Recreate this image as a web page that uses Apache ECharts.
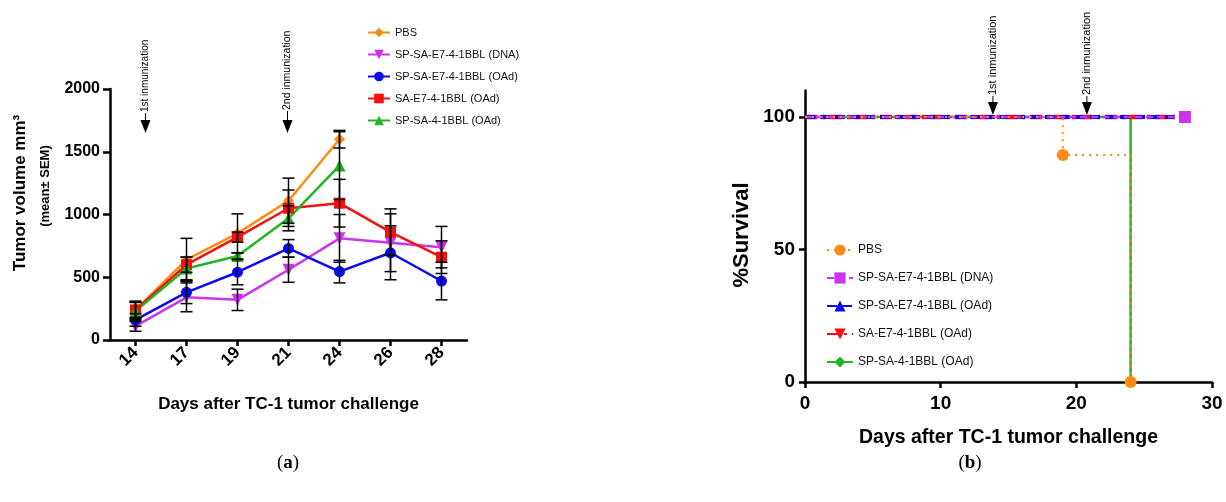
<!DOCTYPE html>
<html>
<head>
<meta charset="utf-8">
<script src="https://cdn.jsdelivr.net/npm/echarts@6/dist/echarts.min.js"></script>
<style>
html, body { margin: 0; padding: 0; background: #fff; }
#main { width: 1226px; height: 502px; }
</style>
</head>
<body>
<div id="main"></div>
<script>
// 肿瘤体积 (a)
var days = ['14', '17', '19', '21', '24', '26', '28'];
var pbsVol  = [240, 640, 850, 1110, 1600, null, null];
var dnaVol  = [110, 340, 320, 560, 810, 775, 740];
var oadVol  = [160, 380, 540, 730, 545, 695, 470];
var saVol   = [240, 600, 820, 1050, 1090, 860, 660];
var spsaVol = [230, 570, 670, 970, 1390, null, null];
// SEM
var pbsSem  = [70, 170, 155, 180, 70, null, null];
var dnaSem  = [40, 115, 85, 100, 190, 230, 165];
var oadSem  = [50, 90, 100, 70, 90, 215, 150];
var saSem   = [60, 60, 40, 145, 190, 185, 130];
var spsaSem = [70, 90, 25, 100, 270, null, null];

// 生存曲线 (b)
var pbsSurv  = [[0, 100], [19, 85.7], [24, 0]];
var dnaSurv  = [[0, 100], [28, 100]];
var oadSurv  = [[0, 100], [28, 100]];
var saSurv   = [[0, 100], [28, 100]];
var spsaSurv = [[0, 100], [24, 0]];

var names = ['PBS', 'SP-SA-E7-4-1BBL (DNA)', 'SP-SA-E7-4-1BBL (OAd)', 'SA-E7-4-1BBL (OAd)', 'SP-SA-4-1BBL (OAd)'];
var colors = ['#FF8A14', '#CC33EE', '#0A0AF0', '#F50F0F', '#22B422'];

var FONT = 'Liberation Sans, Arial, sans-serif';

function errData(vals, sems) {
    var out = [];
    for (let i = 0; i < vals.length; i++) {
        if (vals[i] != null) out.push([i, vals[i] - sems[i], vals[i] + sems[i]]);
    }
    return out;
}

function renderErr(params, api) {
    var x = api.value(0);
    var lo = api.coord([x, api.value(1)]);
    var hi = api.coord([x, api.value(2)]);
    var w = 6;
    var st = { stroke: '#000', lineWidth: 1.5 };
    return {
        type: 'group',
        children: [
            { type: 'line', shape: { x1: lo[0], y1: lo[1], x2: hi[0], y2: hi[1] }, style: st },
            { type: 'line', shape: { x1: lo[0] - w, y1: lo[1], x2: lo[0] + w, y2: lo[1] }, style: st },
            { type: 'line', shape: { x1: hi[0] - w, y1: hi[1], x2: hi[0] + w, y2: hi[1] }, style: st }
        ]
    };
}

function survData(pts, endSymbol) {
    return pts.map(function (p, i) {
        if (i == 0) return { value: p, symbol: 'none' };
        if (endSymbol === false) return { value: p, symbol: 'none' };
        return { value: p };
    });
}

var volData = [pbsVol, dnaVol, oadVol, saVol, spsaVol];
var semData = [pbsSem, dnaSem, oadSem, saSem, spsaSem];
var volSymbols = ['diamond', 'triangle', 'circle', 'rect', 'triangle'];
var volRotate = [0, 180, 0, 0, 0];
var volSizes = [11, 12, 11, 11, 12];

var series = [];
for (let i = 0; i < 5; i++) {
    series.push({
        name: names[i],
        type: 'line',
        xAxisIndex: 0,
        yAxisIndex: 0,
        data: volData[i],
        symbol: volSymbols[i],
        symbolRotate: volRotate[i],
        symbolSize: volSizes[i],
        itemStyle: { color: colors[i] },
        lineStyle: { color: colors[i], width: 2.5 },
        z: 2
    });
}
for (let i = 0; i < 5; i++) {
    series.push({
        type: 'custom',
        xAxisIndex: 0,
        yAxisIndex: 0,
        renderItem: renderErr,
        encode: { x: 0, y: [1, 2] },
        data: errData(volData[i], semData[i]),
        z: 3
    });
}

// (b) 生存曲线
var survSets = [spsaSurv, saSurv, oadSurv, dnaSurv, pbsSurv];
var survIdx = [4, 3, 2, 1, 0];
var survSymbols = { 0: 'circle', 1: 'rect', 2: 'triangle', 3: 'triangle', 4: 'diamond' };
var survRotate = { 0: 0, 1: 0, 2: 0, 3: 180, 4: 0 };
var survLine = {
    0: { type: [2, 5], width: 2 },
    1: { type: [7, 4], width: 2.5 },
    2: { type: [10, 5], width: 4 },
    3: { type: [12, 5, 3, 5], width: 4.5 },
    4: { type: 'solid', width: 2.5 }
};
var survEnd = { 0: true, 1: true, 2: false, 3: false, 4: false };
for (let k = 0; k < 5; k++) {
    var i = survIdx[k];
    series.push({
        name: names[i] + ' ',
        type: 'line',
        xAxisIndex: 1,
        yAxisIndex: 1,
        step: 'end',
        data: survData(survSets[k], survEnd[i]),
        symbol: survSymbols[i],
        symbolRotate: survRotate[i],
        symbolSize: 12,
        itemStyle: { color: colors[i] },
        lineStyle: { color: colors[i], width: survLine[i].width, type: survLine[i].type },
        z: 2 + k
    });
}

var axisLine = { show: true, lineStyle: { color: '#000', width: 2.5 } };
var axisTick = { show: true, length: 6, inside: false, lineStyle: { color: '#000', width: 2.5 } };
function plain(v) { return String(v); }

var option = {
    animation: false,
    backgroundColor: '#fff',
    textStyle: { fontFamily: FONT },
    grid: [
        { left: 110, width: 357, top: 89, height: 251 },
        { left: 805, width: 407, top: 90.5, height: 291.5 }
    ],
    legend: [
        {
            data: names,
            orient: 'vertical',
            left: 362,
            top: 22,
            itemWidth: 22,
            itemHeight: 12,
            itemGap: 11,
            textStyle: { fontSize: 11, color: '#111', fontFamily: FONT }
        },
        {
            data: names.map(function (n) { return n + ' '; }),
            orient: 'vertical',
            left: 821,
            top: 239,
            itemWidth: 26,
            itemHeight: 14,
            itemGap: 16,
            textStyle: { fontSize: 12, color: '#111', fontFamily: FONT }
        }
    ],
    xAxis: [
        {
            type: 'category',
            gridIndex: 0,
            data: days,
            boundaryGap: true,
            axisLine: axisLine,
            axisTick: { show: true, length: 6, alignWithLabel: true, lineStyle: { color: '#000', width: 2.5 } },
            axisLabel: { rotate: 45, fontSize: 17, fontWeight: 'bold', color: '#000', margin: 10, fontFamily: FONT },
            splitLine: { show: false },
            name: 'Days after TC-1 tumor challenge',
            nameLocation: 'middle',
            nameGap: 56,
            nameTextStyle: { fontSize: 17, fontWeight: 'bold', color: '#000', fontFamily: FONT }
        },
        {
            type: 'value',
            gridIndex: 1,
            min: 0,
            max: 30,
            interval: 10,
            axisLine: axisLine,
            axisTick: axisTick,
            axisLabel: { fontSize: 19, fontWeight: 'bold', color: '#000', margin: 12, fontFamily: FONT, formatter: plain },
            splitLine: { show: false },
            name: 'Days after TC-1 tumor challenge',
            nameLocation: 'middle',
            nameGap: 46,
            nameTextStyle: { fontSize: 19.5, fontWeight: 'bold', color: '#000', fontFamily: FONT }
        }
    ],
    yAxis: [
        {
            type: 'value',
            gridIndex: 0,
            min: 0,
            max: 2000,
            interval: 500,
            axisLine: axisLine,
            axisTick: { show: true, length: 7, lineStyle: { color: '#000', width: 2.5 } },
            axisLabel: { fontSize: 16, fontWeight: 'bold', color: '#000', margin: 10, fontFamily: FONT, formatter: plain },
            splitLine: { show: false }
        },
        {
            type: 'value',
            gridIndex: 1,
            min: 0,
            max: 110,
            interval: 50,
            axisLine: axisLine,
            axisTick: { show: true, length: 6, customValues: [0, 50, 100], lineStyle: { color: '#000', width: 2.5 } },
            axisLabel: { fontSize: 19, fontWeight: 'bold', color: '#000', margin: 10, customValues: [0, 50, 100], fontFamily: FONT, formatter: plain },
            splitLine: { show: false }
        }
    ],
    series: series
};

var chart = echarts.init(document.getElementById('main'));
chart.setOption(option);

// 注释：免疫箭头、轴标题、(a)(b)
function arrow(x, tipY, textBottom, label, fs) {
    return [
        { type: 'polygon', shape: { points: [[x - 5, tipY - 13], [x + 5, tipY - 13], [x, tipY]] }, style: { fill: '#000' } },
        { type: 'line', shape: { x1: x, y1: textBottom + 1, x2: x, y2: tipY - 12 }, style: { stroke: '#000', lineWidth: 1 } },
        {
            type: 'text', x: x, y: textBottom, rotation: Math.PI / 2,
            style: { text: label, fontSize: fs, fill: '#000', fontFamily: FONT, align: 'left', verticalAlign: 'middle' }
        }
    ];
}

var p14 = chart.convertToPixel({ xAxisIndex: 0, yAxisIndex: 0 }, ['14', 2000]);
var p21 = chart.convertToPixel({ xAxisIndex: 0, yAxisIndex: 0 }, ['21', 2000]);
var q14 = chart.convertToPixel({ xAxisIndex: 1, yAxisIndex: 1 }, [14, 100]);
var q21 = chart.convertToPixel({ xAxisIndex: 1, yAxisIndex: 1 }, [21, 100]);

var g = [];
g = g.concat(arrow(p14[0] + 10, p14[1] + 44, 112, '1st inmunization', 10));
g = g.concat(arrow(p21[0] - 1, p21[1] + 44, 110, '2nd inmunization', 10.5));
g = g.concat(arrow(q14[0] - 2, q14[1] - 2, 95, '1st inmunization', 11));
g = g.concat(arrow(q21[0] - 3, q21[1] - 2, 95, '2nd inmunization', 11));
g.push({
    type: 'text', x: 20, y: 193, rotation: Math.PI / 2,
    style: { text: 'Tumor volume mm³', fontSize: 17, fontWeight: 'bold', fill: '#000', fontFamily: FONT, align: 'center', verticalAlign: 'middle' }
});
g.push({
    type: 'text', x: 45, y: 186, rotation: Math.PI / 2,
    style: { text: '(mean± SEM)', fontSize: 13, fontWeight: 'bold', fill: '#000', fontFamily: FONT, align: 'center', verticalAlign: 'middle' }
});
g.push({
    type: 'text', x: 742, y: 235, rotation: Math.PI / 2,
    style: { text: '%Survival', fontSize: 22, fontWeight: 'bold', fill: '#000', fontFamily: FONT, align: 'center', verticalAlign: 'middle' }
});
g.push({
    type: 'text', x: 288, y: 463,
    style: {
        text: '({b|a})', fontSize: 19, fill: '#000', fontFamily: 'Liberation Serif, serif', align: 'center', verticalAlign: 'middle',
        rich: { b: { fontSize: 19, fontWeight: 'bold', fontFamily: 'Liberation Serif, serif' } }
    }
});
g.push({
    type: 'text', x: 970, y: 463,
    style: {
        text: '({b|b})', fontSize: 19, fill: '#000', fontFamily: 'Liberation Serif, serif', align: 'center', verticalAlign: 'middle',
        rich: { b: { fontSize: 19, fontWeight: 'bold', fontFamily: 'Liberation Serif, serif' } }
    }
});
chart.setOption({ graphic: g });
</script>
</body>
</html>
